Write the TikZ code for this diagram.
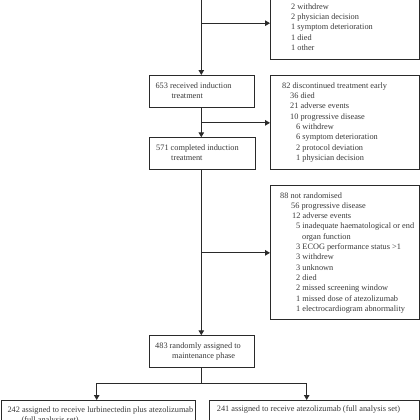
\documentclass[tikz,border=0pt]{standalone}
\usepackage{fontspec}
\setmainfont{Liberation Serif}
\usetikzlibrary{arrows.meta}
\definecolor{linec}{HTML}{2A2A2A}
\definecolor{textc}{HTML}{383838}
\newcommand{\fsz}{\fontsize{8.3pt}{10.3pt}\selectfont}
\begin{document}
\begin{tikzpicture}[x=1pt,y=-1pt,
  box/.style={draw=linec, line width=1.1pt, anchor=north west, inner sep=0pt},
  txt/.style={anchor=base west, inner sep=0pt, align=left, font=\fsz, text=textc},
  conn/.style={draw=linec, line width=1.1pt},
  arr/.style={conn, -{Triangle[length=5pt,width=5.5pt]}}]
\useasboundingbox (0,0) rectangle (420,420);
\clip (0,0) rectangle (420,420);
% boxes
\node[box, minimum width=149.3pt, minimum height=73.3pt] (TR) at (270,-14) {};
\node[box, minimum width=105.6pt, minimum height=32.3pt] (A) at (148.7,75) {};
\node[box, minimum width=149.3pt, minimum height=94pt] (B) at (270,75.3) {};
\node[box, minimum width=105.7pt, minimum height=32pt] (C) at (149.3,137.3) {};
\node[box, minimum width=149.3pt, minimum height=134pt] (D) at (270,185.3) {};
\node[box, minimum width=105.6pt, minimum height=32pt] (E) at (148.7,335.3) {};
\node[box, minimum width=194pt, minimum height=34pt] (F) at (1,400) {};
\node[box, minimum width=210pt, minimum height=34pt] (G) at (209.3,400) {};
% texts (base anchor = baseline of last line)
\node[txt] (TRt) at (291,50.4) {2 withdrew\\2 physician decision\\1 symptom deterioration\\1 died\\1 other};
\node[txt] (At) at (155.3,98.6) {653 received induction\\\hspace*{16pt}treatment};
\node[txt] (Bt) at (282,160.4) {82 discontinued treatment early\\
\hspace*{8pt}36 died\\
\hspace*{8pt}21 adverse events\\
\hspace*{8pt}10 progressive disease\\
\hspace*{14pt}6 withdrew\\
\hspace*{14pt}6 symptom deterioration\\
\hspace*{14pt}2 protocol deviation\\
\hspace*{14pt}1 physician decision};
\node[txt] (Ct) at (156,160.6) {571 completed induction\\\hspace*{15pt}treatment};
\node[txt] (Dt) at (280,311.3) {88 not randomised\\
\hspace*{11pt}56 progressive disease\\
\hspace*{12pt}12 adverse events\\
\hspace*{16pt}5 inadequate haematological or end\\
\hspace*{22pt}organ function\\
\hspace*{16pt}3 ECOG performance status >1\\
\hspace*{16pt}3 withdrew\\
\hspace*{16pt}3 unknown\\
\hspace*{16pt}2 died\\
\hspace*{16pt}2 missed screening window\\
\hspace*{16pt}1 missed dose of atezolizumab\\
\hspace*{16pt}1 electrocardiogram abnormality};
\node[txt] (Et) at (155,358.6) {483 randomly assigned to\\\hspace*{17pt}maintenance phase};
\node[txt] (Ft) at (7.3,422.6) {242 assigned to receive lurbinectedin plus atezolizumab\\\hspace*{14pt}(full analysis set)};
\node[txt] (Gt) at (216.7,411.8) {241 assigned to receive atezolizumab (full analysis set)};
% connectors
\coordinate (top) at (201.3,-5);
\draw[arr] (top) -- (top |- A.north);
\draw[arr] (top |- TR.west) -- (TR.west);
\coordinate (ab) at (201.3,107.3);
\draw[arr] (ab) -- (ab |- C.north);
\draw[arr] (ab |- B.west) -- (B.west);
\coordinate (cb) at (201.3,169.3);
\draw[arr] (cb) -- (cb |- E.north);
\draw[arr] (cb |- D.west) -- (D.west);
\coordinate (sp) at (201.3,383.3);
\coordinate (fl) at (96.7,383.3);
\coordinate (gr) at (306.7,383.3);
\draw[conn] (sp |- E.south) -- (sp);
\draw[conn] (fl) -- (gr);
\draw[arr] (fl) -- (fl |- F.north);
\draw[arr] (gr) -- (gr |- G.north);
\end{tikzpicture}
\end{document}
